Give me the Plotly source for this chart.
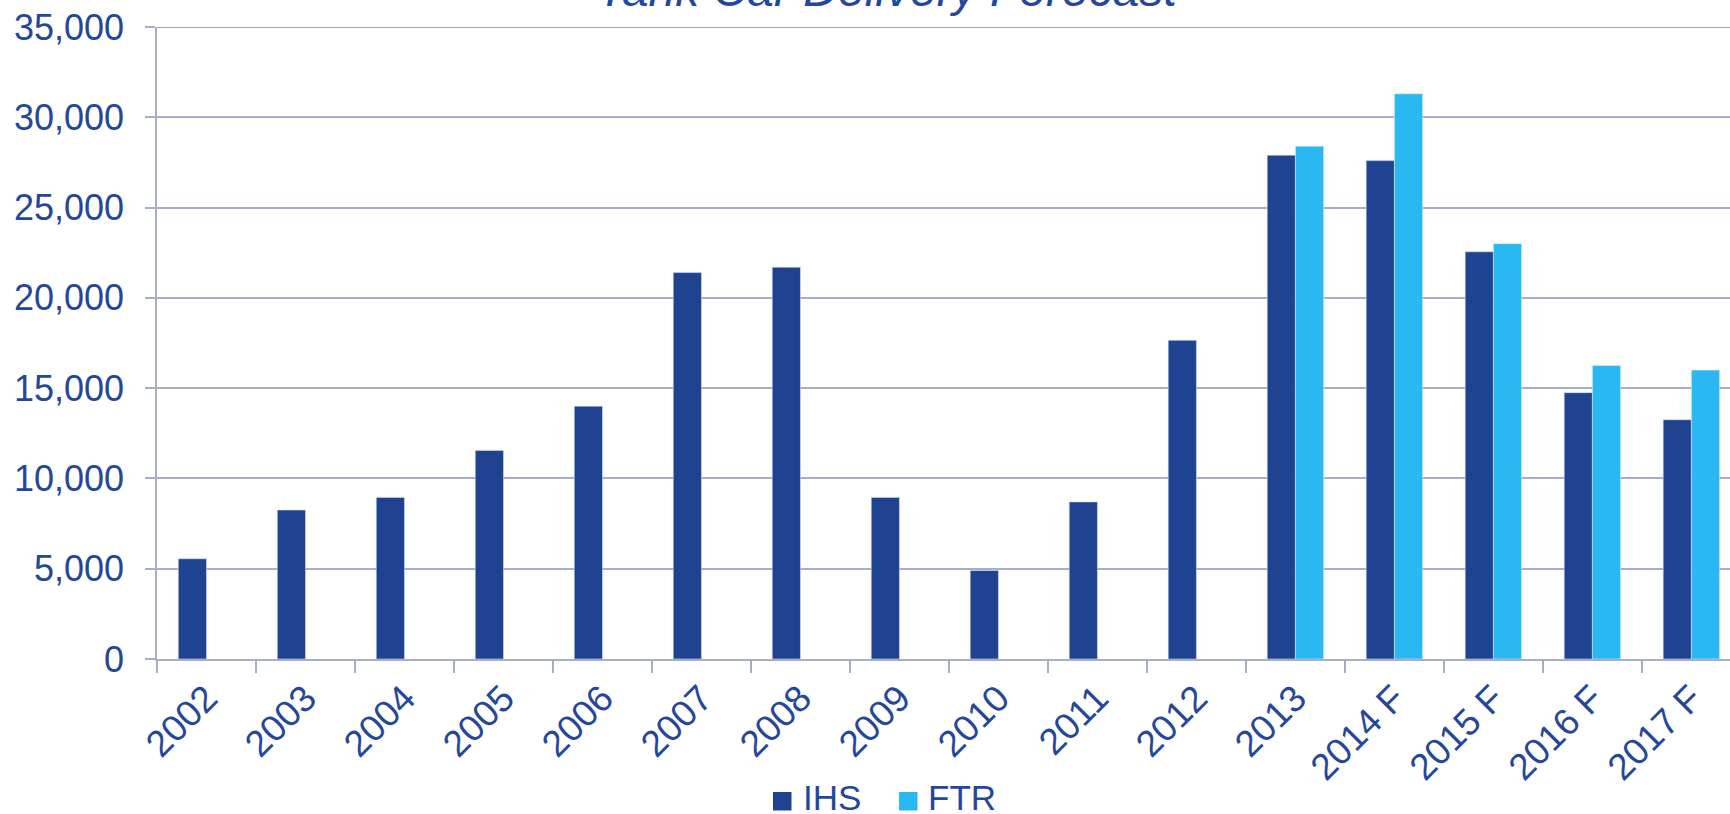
import plotly.graph_objects as go

# Tank car deliveries by year (F = forecast)
categories = ["2002", "2003", "2004", "2005", "2006", "2007", "2008", "2009",
              "2010", "2011", "2012", "2013", "2014 F", "2015 F", "2016 F", "2017 F"]
ihs = [5550, 8250, 8950, 11550, 14000, 21400, 21700, 8950,
       4900, 8700, 17650, 27900, 27600, 22550, 14750, 13250]
ftr = [None, None, None, None, None, None, None, None,
       None, None, None, 28400, 31300, 23000, 16250, 16000]
series_names = ["IHS", "FTR"]
y_ticks = [0, 5000, 10000, 15000, 20000, 25000, 30000, 35000]

W, H = 1730, 814
ML, MR, MT, MB = 157, 0, 27, 155
PW, PH = W - ML - MR, H - MT - MB

DARK = "#1F4391"
LIGHT = "#2AB8F3"
TEXT = "#24479A"
GRID = "#A9ADCC"
FONT = "Liberation Sans, Arial, sans-serif"


def px_x(x):
    return (x - ML) / PW


def px_y(y):
    return (H - MB - y) / PH


fig = go.Figure()
fig.add_trace(go.Bar(x=categories, y=ihs, name=series_names[0],
                     marker=dict(color=DARK, line=dict(color="rgba(220,225,240,0.7)", width=0.8)),
                     showlegend=False))
fig.add_trace(go.Bar(x=categories, y=ftr, name=series_names[1],
                     marker=dict(color=LIGHT, line=dict(color="rgba(220,240,255,0.7)", width=0.8)),
                     showlegend=False))

# top border of the plot area
shapes = [
    dict(type="line", xref="paper", yref="y", x0=0, x1=1, y0=35000, y1=35000,
         line=dict(color="#A6A6A6", width=2)),
]
annotations = []

# legend drawn as square swatches with labels
legend_items = [(series_names[0], DARK, 773, 801), (series_names[1], LIGHT, 899, 926)]
for name, col, sq_x, tx_x in legend_items:
    shapes.append(dict(type="rect", xref="paper", yref="paper",
                       x0=px_x(sq_x), x1=px_x(sq_x + 18.5),
                       y0=px_y(810.5), y1=px_y(792),
                       fillcolor=col, line=dict(width=0)))
    annotations.append(dict(text=name, xref="paper", yref="paper",
                            x=px_x(tx_x), y=px_y(797), xanchor="left", yanchor="middle",
                            showarrow=False, font=dict(size=35, color=TEXT, family=FONT)))

annotations.append(dict(text="<i>Tank Car Delivery Forecast</i>", xref="paper", yref="paper",
                        x=px_x(887), y=px_y(-10), xanchor="center", yanchor="middle",
                        showarrow=False, font=dict(size=48, color=TEXT, family=FONT)))

fig.update_layout(
    width=W, height=H,
    margin=dict(l=ML, r=MR, t=MT, b=MB),
    paper_bgcolor="white", plot_bgcolor="white",
    barmode="group", bargap=0.43, bargroupgap=0,
    font=dict(family=FONT, color=TEXT),
    shapes=shapes, annotations=annotations,
    showlegend=False,
)
fig.update_xaxes(
    type="category", range=[-0.5, 15.39],
    showline=True, linecolor=GRID, linewidth=1.5,
    ticks="outside", tickson="boundaries", ticklen=12, tickcolor=GRID, tickwidth=1.5,
    tickangle=-45, tickfont=dict(size=37, color=TEXT, family=FONT),
    ticklabelstandoff=1,
    showgrid=False,
)
fig.update_yaxes(
    range=[0, 35000], tickvals=y_ticks, tickformat=",d",
    showline=True, linecolor=GRID, linewidth=1.5,
    ticks="outside", ticklen=10, tickcolor=GRID, tickwidth=1.5,
    ticklabelstandoff=14,
    showgrid=True, gridcolor=GRID, gridwidth=1.5, zeroline=False,
    tickfont=dict(size=36, color=TEXT, family=FONT),
)

fig.write_html("out.html")
